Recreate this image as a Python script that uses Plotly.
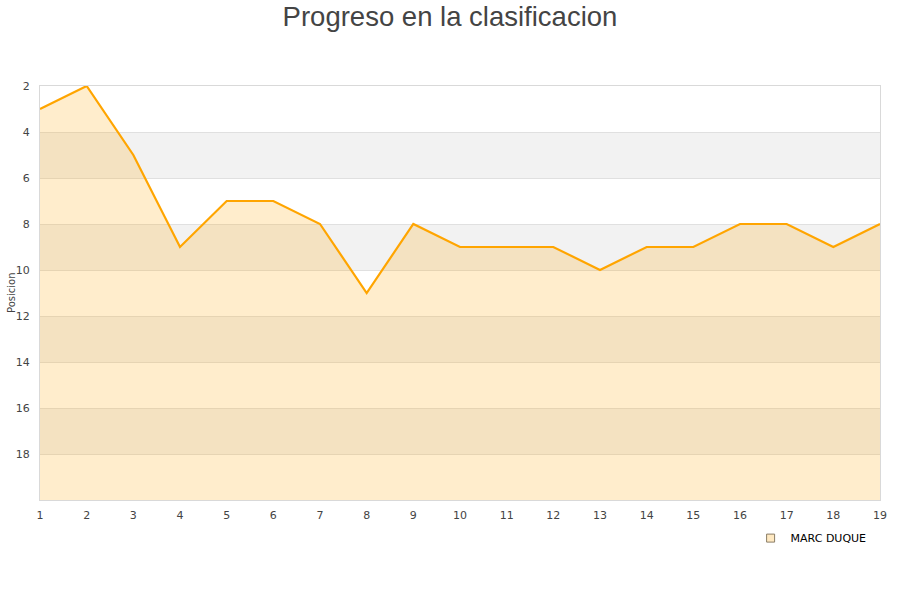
import plotly.graph_objects as go

jornadas = list(range(1, 20))
posiciones = [3, 2, 5, 9, 7, 7, 8, 11, 8, 9, 9, 9, 10, 9, 9, 8, 8, 9, 8]
jugador = "MARC DUQUE"
y_ticks = [2, 4, 6, 8, 10, 12, 14, 16, 18]
band_ranges = [(4, 6), (8, 10), (12, 14), (16, 18)]
fondo = 20

fig = go.Figure()
fig.add_trace(go.Scatter(x=jornadas, y=[fondo] * len(jornadas), mode="lines",
                         line=dict(width=0), showlegend=False, hoverinfo="skip"))
fig.add_trace(go.Scatter(x=jornadas, y=posiciones, mode="lines", name=jugador,
                         line=dict(color="#ffa500", width=2.2),
                         fill="tonexty", fillcolor="rgba(255,165,0,0.2)",
                         showlegend=False))
fig.add_trace(go.Scatter(x=[None], y=[None], mode="markers", name=jugador,
                         marker=dict(symbol="square", size=8, color="#ffe9c2",
                                     line=dict(color="#8a7d66", width=1))))

shapes = []
for a, b in band_ranges:
    shapes.append(dict(type="rect", xref="paper", yref="y", x0=0, x1=1, y0=a, y1=b,
                       fillcolor="#f2f2f2", line=dict(width=0), layer="below"))

fig.update_layout(
    width=900, height=600,
    paper_bgcolor="white", plot_bgcolor="white",
    margin=dict(l=40, r=20, t=86, b=100),
    title=dict(text="Progreso en la clasificacion", x=0.5, xanchor="center",
               y=1 - 16 / 600, yanchor="middle",
               font=dict(family="Liberation Sans, Arial", size=27.5, color="#444444")),
    shapes=shapes,
    font=dict(family="DejaVu Sans", size=11, color="#444444"),
    xaxis=dict(range=[1, 19], tickmode="array", tickvals=jornadas, automargin=False,
               showgrid=False, zeroline=False, showline=True, linecolor="#d9d9d9",
               mirror=True, ticks="", ticklabelstandoff=5,
               tickfont=dict(size=11, color="#444444")),
    yaxis=dict(range=[20, 2], tickmode="array", tickvals=y_ticks, automargin=False,
               showgrid=True, gridcolor="#e0e0e0", zeroline=False,
               showline=True, linecolor="#d9d9d9", mirror=True, ticks="",
               ticklabelstandoff=7,
               tickfont=dict(size=11, color="#444444")),
    annotations=[dict(text="Posicion", xref="paper", yref="paper", x=0, y=0.5,
                      xanchor="center", yanchor="middle", xshift=-29, textangle=-90,
                      showarrow=False, font=dict(size=10, color="#444444"))],
    legend=dict(orientation="h", x=0.99, xanchor="right", y=-0.057, yanchor="top",
                font=dict(family="DejaVu Sans", size=11, color="#000000"),
                bgcolor="rgba(255,255,255,0)", itemwidth=30),
    showlegend=True,
)

fig.write_html("out.html", config={"displayModeBar": False},
               post_script="document.body.style.margin='0';")
